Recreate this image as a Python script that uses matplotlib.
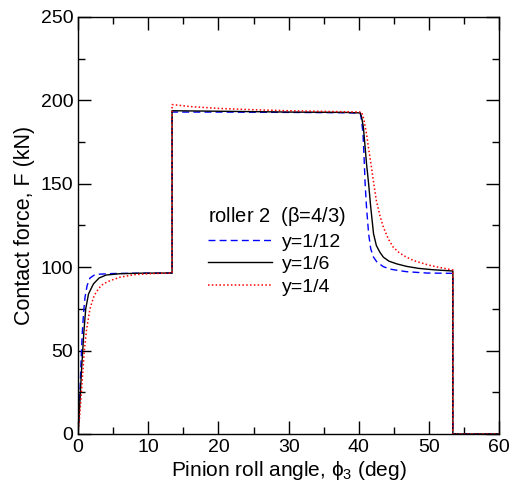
import matplotlib
matplotlib.use("Agg")
import matplotlib.pyplot as plt
from matplotlib.ticker import MultipleLocator

plt.rcParams['font.family'] = ['Liberation Sans', 'DejaVu Sans']
plt.rcParams['mathtext.fontset'] = 'custom'
plt.rcParams['mathtext.rm'] = 'Liberation Sans'
plt.rcParams['mathtext.it'] = 'Liberation Sans'

# y = 1/12 (blue dashed)
x_blue = [0, 0.15, 0.3, 0.45, 0.6, 0.8, 1.0, 1.3, 1.7, 2.3, 3.0, 5.0, 9.0, 13.4, 13.4,
          20, 30, 38, 40.2, 40.4, 40.6, 40.75, 40.9, 41.1, 41.4, 41.7, 42.1, 42.6, 43.5,
          44.5, 45.4, 46.8, 49.7, 53.4, 53.4, 60]
y_blue = [0, 12, 28, 45, 60, 73, 82, 89, 93.5, 95.2, 95.8, 96.2, 96.4, 96.5, 193,
          193, 192.8, 192.6, 192.4, 188, 180, 166, 150, 136, 120, 111, 106, 103, 100.3,
          98.8, 98.2, 97.3, 96.5, 96.3, 0, 0]

# y = 1/6 (black solid)
x_black = [0, 0.15, 0.3, 0.5, 0.67, 0.85, 1.1, 1.5, 2.2, 3.0, 4.0, 6, 9, 13.4, 13.4,
           20, 30, 38, 40.2, 40.4, 40.65, 40.9, 41.1, 41.4, 41.7, 42.1, 42.5, 43.0, 43.5,
           44.3, 45.4, 46.8, 48.5, 50.5, 53.4, 53.4, 60]
y_black = [0, 10, 22, 38, 50, 62, 75, 84, 90, 93.5, 95.3, 96.1, 96.4, 96.5, 193.8,
           193.5, 193, 192.8, 192.5, 190, 184, 172, 162, 150, 136, 120, 113, 109, 106,
           103.6, 102, 100.5, 99.3, 98.5, 97.7, 0, 0]

# y = 1/4 (red dotted)
x_red = [0, 0.2, 0.4, 0.65, 0.9, 1.2, 1.7, 2.3, 3.0, 3.6, 4.6, 6, 8, 10.5, 13.4, 13.4,
         16, 20, 25, 30, 35, 40.4, 40.7, 41.1, 41.4, 41.8, 42.1, 42.5, 43.0, 43.5, 44.2,
         44.9, 45.8, 46.8, 47.8, 48.7, 50.2, 51.8, 53.4, 53.4, 60]
y_red = [0, 9, 20, 35, 50, 62, 75, 83, 87.5, 90, 92, 94, 95.5, 96.2, 96.5, 197.5,
         196.3, 195.2, 194.4, 193.8, 193.4, 193, 189, 180, 171, 160, 151, 140, 131, 124, 117,
         112, 108.5, 106, 104, 102.8, 101, 99.6, 98.3, 0, 0]

labels = ['y=1/12', 'y=1/6', 'y=1/4']
legend_title = 'roller 2  ($\\beta$=4/3)'

fig = plt.figure(figsize=(5.2, 4.91), dpi=100)
ax = fig.add_axes([0.15, 0.1161, 0.81, 0.8493])

ax.plot(x_blue, y_blue, color='blue', linestyle=(0, (5, 3)), linewidth=1.0, label=labels[0])
ax.plot(x_black, y_black, color='black', linestyle='-', linewidth=1.0, label=labels[1])
ax.plot(x_red, y_red, color='red', linestyle=(0, (1, 1.5)), linewidth=1.1, label=labels[2])

ax.set_xlim(0, 60)
ax.set_ylim(0, 250)
ax.xaxis.set_major_locator(MultipleLocator(10))
ax.xaxis.set_minor_locator(MultipleLocator(5))
ax.yaxis.set_major_locator(MultipleLocator(50))
ax.yaxis.set_minor_locator(MultipleLocator(25))
ax.tick_params(which='both', direction='in', top=True, right=True, labelsize=14, width=1)
ax.tick_params(which='major', length=9.5)
ax.tick_params(which='minor', length=5)
for s in ax.spines.values():
    s.set_linewidth(1.0)

ax.set_xlabel('Pinion roll angle, $\\phi_3$ (deg)', fontsize=15, labelpad=2)
ax.set_ylabel('Contact force, F (kN)', fontsize=15.5, labelpad=4)

leg = ax.legend(title=legend_title, frameon=False, fontsize=14, title_fontsize=14.5,
                loc='upper left', bbox_to_anchor=(0.29, 0.567), handlelength=3.3,
                handletextpad=0.5, labelspacing=0.25, borderaxespad=0)
leg._legend_box.align = 'left'

fig.savefig('out.png', dpi=100)
